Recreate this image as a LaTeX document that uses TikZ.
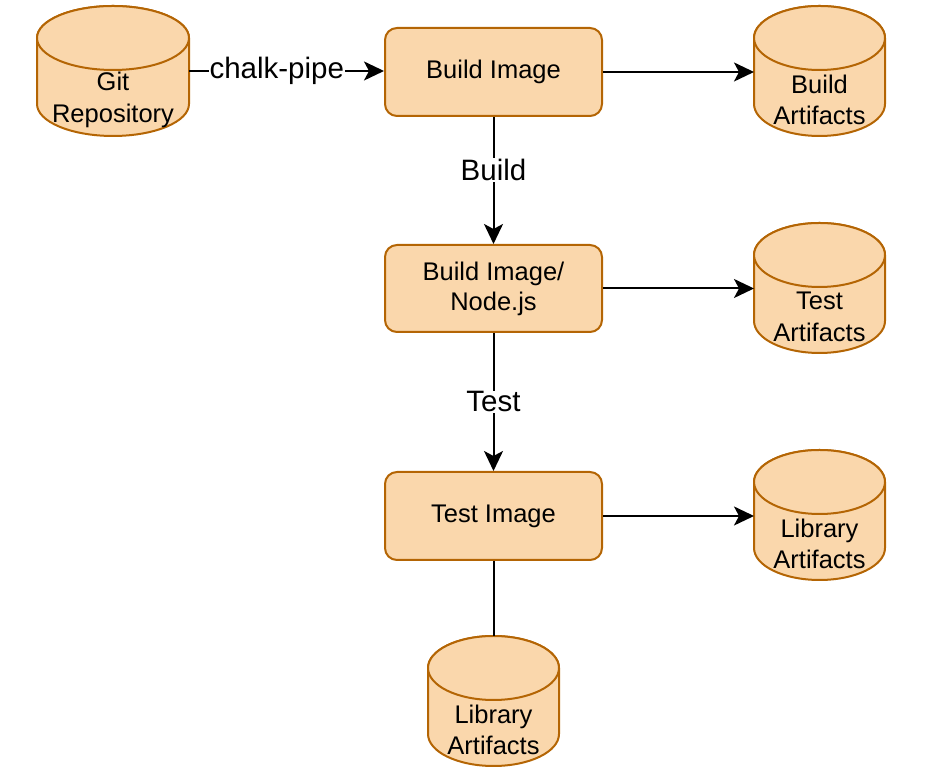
\documentclass[tikz,border=0pt]{standalone}
\usepackage{fontspec}
\setmainfont{Liberation Sans}
\usetikzlibrary{arrows.meta}
\definecolor{boxfill}{HTML}{FAD7AC}
\definecolor{boxline}{HTML}{B46504}

\tikzset{
  stage/.style={draw=boxline, fill=boxfill, line width=2pt, rounded corners=12pt,
    minimum width=217pt, minimum height=88pt, align=center, font=\fontsize{25.5}{30}\selectfont},
  storebox/.style={inner sep=0pt, outer sep=0pt},
  storeline/.style={draw=boxline, fill=boxfill, line width=2pt},
  storetext/.style={align=center, font=\fontsize{25.5}{31.5}\selectfont},
  flow/.style={line width=2pt, -{Stealth[length=20pt,width=19pt,inset=5pt]}},
  link/.style={line width=2pt},
  edgelabel/.style={fill=white, inner sep=1pt, font=\fontsize{29.5}{33}\selectfont},
}

% name, centre x, centre y, width, text
\newcommand{\datastore}[5]{%
  \node[storebox, minimum width=#4pt, minimum height=130pt] (#1) at (#2,#3) {};
  \path[storeline] ([yshift=-32pt]#1.north west) -- ([yshift=32pt]#1.south west)
    arc[start angle=180, end angle=360, x radius=#4/2, y radius=32]
    -- ([yshift=-32pt]#1.north east)
    arc[start angle=0, end angle=180, x radius=#4/2, y radius=32] -- cycle;
  \path[storeline] ([yshift=-32pt]#1.north) ellipse [x radius=#4/2, y radius=32];
  \node[storetext] at ([yshift=-29pt]#1.center) {#5};
}

\begin{document}
\begin{tikzpicture}[x=1pt,y=1pt]
  \useasboundingbox (0,0) rectangle (928,783);

  \datastore{git}{113}{712}{152}{Git\\Repository}
  \datastore{buildart}{819.5}{712}{131}{Build\\Artifacts}
  \datastore{testart}{819.5}{495}{131}{Test\\Artifacts}
  \datastore{libart}{819.5}{268}{131}{Library\\Artifacts}
  \datastore{libbot}{493.5}{82}{131}{Library\\Artifacts}

  \node[stage] (build) at (493.5,711) {Build Image};
  \node[stage, minimum height=87pt] (nodejs) at (493.5,494.5) {Build Image/\\Node.js};
  \node[stage] (testimg) at (493.5,267) {Test Image};

  \draw[flow] (git.east) -- node[edgelabel, pos=0.45] {chalk-pipe} (git.east -| build.west);
  \draw[flow] (build.east) -- (build.east -| buildart.west);
  \draw[flow] (nodejs.east) -- (nodejs.east -| testart.west);
  \draw[flow] (testimg.east) -- (testimg.east -| libart.west);

  \draw[flow] (build) -- node[edgelabel, pos=0.42] {Build} (nodejs);
  \draw[flow] (nodejs) -- node[edgelabel] {Test} (testimg);
  \draw[link] (testimg) -- (libbot);
\end{tikzpicture}
\end{document}
